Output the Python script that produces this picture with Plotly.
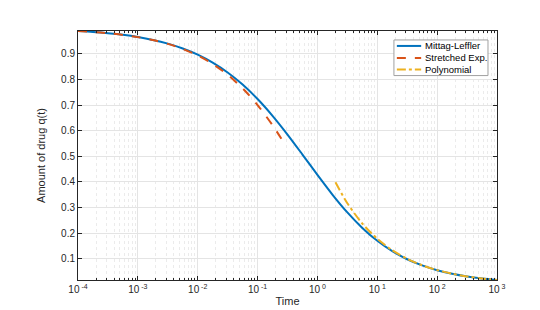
import plotly.graph_objects as go

# Time samples (log-spaced) and values
t_ml = [1e-4, 1.778e-4, 3.162e-4, 5.623e-4, 1e-3, 1.778e-3, 3.162e-3, 5.623e-3,
        1e-2, 1.778e-2, 3.162e-2, 5.623e-2, 1e-1, 1.778e-1, 3.162e-1, 5.623e-1,
        1.0, 1.778, 3.162, 5.623, 10.0, 17.78, 31.62, 56.23, 100.0, 177.8, 316.2, 562.3, 1000.0]
q_ml = [0.9888, 0.9851, 0.9802, 0.9738, 0.9653, 0.9541, 0.9396, 0.9207,
        0.8965, 0.8657, 0.8272, 0.7800, 0.7236, 0.6581, 0.5851, 0.5070,
        0.4276, 0.3511, 0.2813, 0.2208, 0.1706, 0.1303, 0.0988, 0.0746, 0.0561, 0.0422, 0.0317, 0.0238, 0.0178]

t_se = [1e-4, 1.778e-4, 3.162e-4, 5.623e-4, 1e-3, 1.778e-3, 3.162e-3, 5.623e-3,
        1e-2, 1.778e-2, 3.162e-2, 5.623e-2, 1e-1, 1.778e-1, 0.25]
q_se = [0.9888, 0.9851, 0.9801, 0.9736, 0.9649, 0.9535, 0.9385, 0.9189,
        0.8933, 0.8603, 0.8182, 0.7652, 0.6999, 0.6213, 0.5688]

t_poly = [2.0, 3.162, 5.623, 10.0, 17.78, 31.62, 56.23, 100.0, 177.8, 316.2, 562.3, 1000.0]
q_poly = [0.3989, 0.3173, 0.2379, 0.1784, 0.1338, 0.1003, 0.0752, 0.0564, 0.0423, 0.0317, 0.0238, 0.0178]

series_names = ["Mittag-Leffler", "Stretched Exp.", "Polynomial"]
series_colors = ["#0072BD", "#D95319", "#EDB120"]
series_dash = ["solid", "dash", "dashdot"]

x_tickvals = [1e-4, 1e-3, 1e-2, 1e-1, 1, 10, 100, 1000]
x_ticktext = ["10<sup> -4</sup>", "10<sup> -3</sup>", "10<sup> -2</sup>", "10<sup> -1</sup>",
              "10<sup> 0</sup>", "10<sup> 1</sup>", "10<sup> 2</sup>", "10<sup> 3</sup>"]
x_minor_vals = [m * d for d in [1e-4, 1e-3, 1e-2, 1e-1, 1, 10, 100] for m in range(2, 10)]
y_tickvals = [0.1, 0.2, 0.3, 0.4, 0.5, 0.6, 0.7, 0.8, 0.9]
y_ticktext = ["0.1", "0.2", "0.3", "0.4", "0.5", "0.6", "0.7", "0.8", "0.9"]

fig = go.Figure()
for xs, ys, nm, col, dsh in zip([t_ml, t_se, t_poly], [q_ml, q_se, q_poly],
                                series_names, series_colors, series_dash):
    fig.add_trace(go.Scatter(x=xs, y=ys, mode="lines", name=nm, showlegend=False,
                             line=dict(color=col, width=2, dash=dsh, shape="spline", smoothing=0.8)))

axis_col = "#262626"
fig.update_xaxes(type="log", range=[-4, 3], tickvals=x_tickvals, ticktext=x_ticktext,
                 ticks="inside", ticklen=4, tickcolor=axis_col, showline=True, linecolor=axis_col,
                 linewidth=1, mirror="ticks", showgrid=True, gridcolor="#e4e4e4", gridwidth=1,
                 zeroline=False,
                 minor=dict(tickmode="array", tickvals=x_minor_vals, ticks="inside", ticklen=2,
                            tickcolor=axis_col, showgrid=True,
                            gridcolor="#ebebeb", griddash="dot", gridwidth=1),
                 title=dict(text="Time", font=dict(size=11, color=axis_col), standoff=3),
                 tickfont=dict(size=10, color=axis_col))
fig.update_yaxes(range=[0.0178, 0.9888], tickvals=y_tickvals, ticktext=y_ticktext,
                 ticks="inside", ticklen=4, tickcolor=axis_col, showline=True, linecolor=axis_col,
                 linewidth=1, mirror="ticks", showgrid=True, gridcolor="#e4e4e4", gridwidth=1,
                 zeroline=False,
                 title=dict(text="Amount of drug q(t)", font=dict(size=11, color=axis_col), standoff=13),
                 tickfont=dict(size=10, color=axis_col))

# Compact MATLAB-style legend box
lx0, lx1, ly0, ly1 = 0.754, 0.9785, 0.821, 0.964
fig.add_shape(type="rect", xref="paper", yref="paper", x0=lx0, x1=lx1, y0=ly0, y1=ly1,
              line=dict(color="#a0a0a0", width=1), fillcolor="white", layer="above")
entry_y = [0.940, 0.892, 0.845]
for ey, nm, col, dsh in zip(entry_y, series_names, series_colors, series_dash):
    fig.add_shape(type="line", xref="paper", yref="paper", x0=0.761, x1=0.819, y0=ey, y1=ey,
                  line=dict(color=col, width=2, dash=dsh), layer="above")
    fig.add_annotation(xref="paper", yref="paper", x=0.823, y=ey, text=nm, showarrow=False,
                       xanchor="left", yanchor="middle", font=dict(size=9.5, color="#000000"))

fig.update_layout(
    width=540, height=310,
    margin=dict(l=70, r=51, t=23, b=36),
    paper_bgcolor="white", plot_bgcolor="white",
    font=dict(family="Liberation Sans, Arial, sans-serif", color=axis_col),
    showlegend=False,
)

fig.write_html("out.html")
